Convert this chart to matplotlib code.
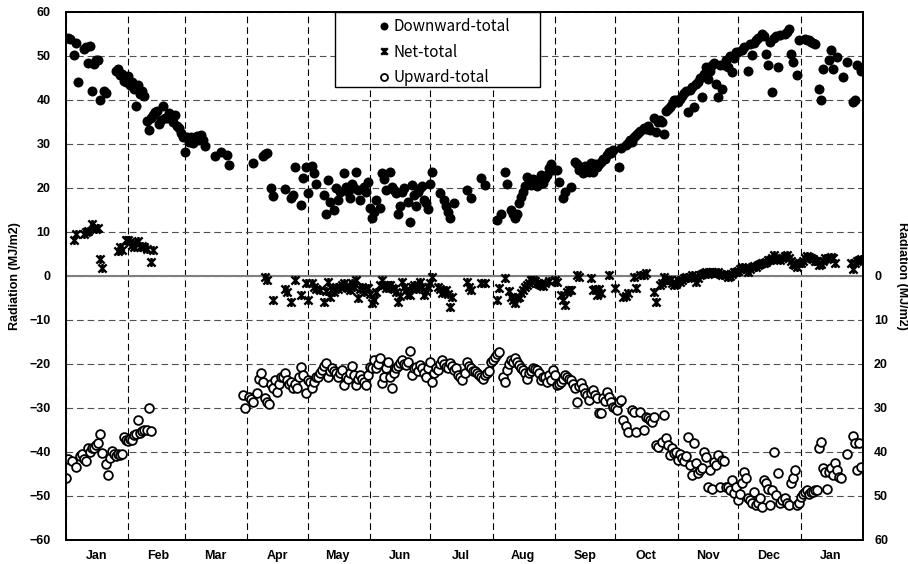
import numpy as np
import pandas as pd
import matplotlib
matplotlib.use("Agg")
import matplotlib.pyplot as plt
import matplotlib.dates as mdates
from matplotlib.path import Path
from matplotlib.patches import Rectangle

nan = np.nan

# daily totals (MJ/m2), 1 Jan of year 1 to 31 Jan of year 2, one line per month
downward = [
    nan, 54.2, 53.8, nan, 50.3, 53.0, 44.2, nan, nan, 51.5, 52.0, 48.3, 52.2, 42.0, 48.2, 49.2, 49.0, 39.9, nan, 42.0, 41.5, nan, nan, nan, nan, 46.5, 47.0, 45.6, 46.0, 44.4, 44.2,
    45.4, 43.3, 44.0, 42.5, 38.6, 43.3, 41.4, 42.0, 41.0, 35.2, 33.1, 35.8, 36.5, 37.3, 37.5, 34.5, 35.5, 38.6, 36.0, 35.8, 37.0, 36.1, 35.0, 36.5, 34.0, 33.6, 32.4, 31.5,
    28.2, 31.6, 30.5, 31.5, 30.2, 30.8, 31.8, 30.8, 32.0, 31.0, 29.5, nan, nan, nan, nan, 27.2, nan, nan, 28.2, nan, nan, 27.4, 25.3, nan, nan, nan, nan, nan, nan, nan, nan,
    nan, nan, nan, 25.7, nan, nan, nan, nan, 27.2, 27.8, 28.0, nan, 20.0, 18.1, nan, nan, nan, nan, nan, 19.8, nan, nan, 17.7, 18.3, 24.7, nan, nan, 16.1, 22.2, 24.7,
    18.8, nan, 25.0, 23.3, 21.0, nan, nan, nan, 18.4, 14.2, 21.8, 16.9, nan, 15.0, 19.9, 17.3, 19.0, nan, 23.3, 20.3, 19.0, 17.7, 21.0, 20.0, 23.6, 19.5, 17.3, nan, 20.3, 19.0, 21.4,
    15.4, 13.1, 14.5, 17.3, nan, 15.5, 23.3, 22.0, 19.5, nan, 23.7, 20.3, 19.5, 18.8, 14.2, 16.0, 19.2, 20.0, nan, 16.9, 12.3, 20.7, 18.5, 15.8, 19.0, 19.9, 20.5, 17.3, 16.5, 15.2,
    21.0, 23.7, nan, nan, nan, 18.8, nan, 17.3, 15.8, 14.5, 13.1, nan, 16.5, nan, nan, nan, nan, nan, 19.5, nan, 17.7, nan, nan, nan, nan, 22.2, nan, 20.7, nan, nan, nan,
    nan, nan, 12.7, nan, 14.2, nan, 23.7, 21.0, nan, 15.0, 14.0, 13.1, 14.2, 16.5, 18.0, 19.2, 20.5, 22.6, 21.5, 20.7, 22.0, 21.4, 20.5, 21.0, 22.9, 21.1, 22.2, 23.0, 24.5, 25.5, 24.0,
    nan, 24.1, 21.4, nan, 17.7, 19.0, nan, nan, 20.3, nan, 26.0, 25.5, 24.0, 24.5, 23.5, 25.0, 24.0, 23.7, 25.6, 23.7, 25.5, 24.8, 25.5, 26.0, 26.7, 26.7, 27.5, 28.2, 27.9, 28.6,
    nan, nan, 24.7, 29.0, nan, 29.8, 30.2, 30.8, 30.5, 31.5, 32.0, 32.5, 33.0, nan, 33.6, 33.5, 34.0, 33.2, nan, 35.8, 32.8, 35.0, 35.5, 35.0, 32.3, 37.6, 38.0, 38.4, 39.0, 39.9, 40.0,
    39.5, 40.3, 41.0, 41.5, 42.0, 37.3, 42.2, 43.0, 38.4, 43.7, 44.0, 45.0, 40.7, 46.0, 47.5, 44.8, 46.7, 47.9, 48.5, 43.7, 40.7, 47.9, 42.6, 48.0, 49.0, 47.5, 50.0, 46.4, 49.5, 50.9,
    51.0, nan, 51.3, 52.0, nan, 46.7, 52.8, 50.2, 53.0, 53.6, 54.0, nan, 55.1, 54.5, 50.5, 47.9, 53.2, 41.8, 54.0, 54.5, 47.5, 54.7, nan, 55.1, 55.5, 56.2, 50.5, 48.6, nan, 45.6, 53.6,
    nan, nan, 53.9, 53.7, 53.6, 53.2, 53.0, 52.8, nan, 42.6, 39.9, 47.1, nan, nan, 49.0, 51.4, 47.1, nan, 49.8, nan, nan, 45.2, nan, 48.6, nan, nan, 39.5, 39.9, 47.9, nan, 46.7,
]

net = [
    nan, nan, nan, nan, 8.2, 9.5, nan, nan, nan, 9.5, 10.0, 10.3, nan, 11.8, 11.0, 10.7, 11.0, 3.8, 1.9, nan, nan, nan, nan, nan, nan, nan, 5.6, 6.5, 6.0, nan, 8.2,
    8.2, 7.7, 7.0, 6.5, 7.5, 8.0, 6.5, 6.8, 6.5, 6.2, nan, 3.2, 6.0, nan, nan, nan, nan, nan, nan, nan, nan, nan, nan, nan, nan, nan, nan, nan,
    nan, nan, nan, nan, nan, nan, nan, nan, nan, nan, nan, nan, nan, nan, nan, nan, nan, nan, nan, nan, nan, nan, nan, nan, nan, nan, nan, nan, nan, nan, nan,
    nan, nan, nan, nan, nan, nan, nan, nan, nan, -0.2, -0.8, nan, nan, -5.5, nan, nan, nan, nan, nan, -3.0, -3.6, nan, -5.8, nan, -0.9, nan, nan, -4.3, nan, -1.7,
    -5.5, nan, -1.7, -2.5, -3.0, nan, -3.2, nan, -5.8, -3.5, -1.3, -4.7, -3.0, -3.6, -2.5, -3.0, -2.4, -2.0, -1.7, -2.2, -2.8, -3.2, -1.5, -2.5, -0.9, -5.1, -3.0, -2.5, -3.6, -3.0, -2.8,
    -4.0, -6.2, -5.5, -3.6, nan, -2.0, -0.9, -2.0, -2.8, -2.0, -2.0, -2.8, -3.0, -3.6, -5.8, -4.5, -1.3, -2.5, -3.2, -4.0, -4.3, -2.5, -2.0, -3.0, -2.0, -1.3, -2.5, -4.3, -3.5, -2.4,
    -1.5, -0.2, nan, nan, -2.4, -3.0, -3.9, -3.5, -3.2, -4.0, -7.0, -4.7, nan, nan, nan, nan, nan, nan, -1.3, -2.5, -3.2, nan, nan, nan, nan, -1.5, nan, -1.7, nan, nan, nan,
    nan, nan, -5.5, -2.8, nan, nan, -0.5, nan, -3.5, -4.7, -5.5, -6.2, -5.0, -4.7, -3.8, -3.2, -2.5, -2.0, -1.5, -0.9, -1.0, -1.2, -1.5, -1.8, -2.0, -2.2, -1.5, nan, -1.2, nan, nan,
    -1.0, -1.3, nan, -4.3, -5.5, -6.6, -3.6, -3.2, -3.2, nan, nan, 0.2, -0.2, nan, nan, nan, nan, nan, -0.5, -3.2, -3.0, -4.3, -3.0, -3.9, nan, nan, nan, 0.2, nan, nan,
    -2.8, nan, nan, nan, -4.7, -4.5, -3.9, nan, nan, -0.2, -2.8, nan, 0.2, nan, 0.3, 0.6, nan, nan, nan, -3.6, -5.8, nan, -2.0, -1.5, -0.2, -0.8, -1.0, -0.9, -1.5, -2.0, -1.8,
    -1.0, -1.3, -0.8, -0.5, -0.2, -0.5, -0.2, 0.2, -0.3, -1.3, -0.5, 0.3, 0.5, 0.6, 0.8, 0.5, 1.0, 0.8, 0.6, 0.6, 0.8, 0.4, 0.2, 0.5, 0.3, -0.2, 0.0, 0.5, 1.0, 0.8,
    1.2, 1.5, 2.1, 1.5, 1.8, 1.0, 1.5, 2.0, 2.2, 2.1, 2.5, 2.8, 2.9, 3.0, 3.2, 3.6, 3.6, 4.0, 4.8, 4.2, 3.8, 3.6, 4.0, 4.5, 4.8, 4.0, 3.3, 2.8, 2.5, 2.1, 3.0,
    2.9, 3.5, 4.0, 4.5, 4.4, 4.0, 3.8, 3.5, 3.3, 2.5, 2.8, 3.5, 4.0, 3.8, 4.2, 4.4, 4.0, 3.0, nan, nan, nan, nan, nan, nan, nan, 2.9, 1.7, 3.0, 3.5, 3.6, 3.8,
]

upward = [
    -45.9, -41.7, nan, -42.0, nan, -43.3, nan, -41.0, -40.5, -41.5, -42.0, -39.0, -40.0, -39.1, -39.0, -38.5, -38.0, -36.0, -40.2, nan, -42.8, -45.3, -41.3, -39.8, -40.5, -40.8, -40.5, -40.6, -40.4, -36.7, -37.2,
    -37.5, -37.0, -37.3, -36.2, -36.0, -32.7, -35.7, -35.2, -35.0, -34.9, -30.0, -35.3, nan, nan, nan, nan, nan, nan, nan, nan, nan, nan, nan, nan, nan, nan, nan, nan,
    nan, nan, nan, nan, nan, nan, nan, nan, nan, nan, nan, nan, nan, nan, nan, nan, nan, nan, nan, nan, nan, nan, nan, nan, nan, nan, nan, nan, nan, -27.0, -30.1,
    nan, -27.4, -28.0, -28.6, nan, -26.7, -23.3, -22.1, -24.0, -27.8, -28.6, -29.1, -24.5, -25.5, -23.6, -26.3, -24.5, -22.9, -23.0, -22.1, -23.6, -24.5, -24.0, -25.5, -24.5, -25.5, -23.0, -20.6, -22.5, -26.7,
    -23.6, -24.0, -25.5, -24.0, -23.0, -22.9, -22.0, -21.4, -20.5, -19.8, -22.9, -21.5, -21.0, -21.7, -22.0, -22.9, -22.0, -21.4, -24.8, -23.0, -23.3, -22.0, -20.5, -22.5, -24.8, -23.5, -22.5, -23.3, -24.0, -24.8, -22.5,
    -20.6, -21.0, -19.1, -21.0, -20.0, -18.7, -24.4, -22.9, -21.0, -19.5, -23.0, -25.5, -22.1, -21.0, -20.5, -19.8, -19.1, -20.0, -20.2, -19.5, -17.0, -22.5, -21.0, -20.6, -21.5, -20.2, -21.0, -22.0, -23.0, -21.0,
    -19.5, -24.2, -22.0, -21.0, -21.4, -20.0, -19.1, -20.0, -20.6, -21.0, -19.8, -20.5, -21.4, -21.0, -22.5, -23.0, -23.6, -22.0, -19.5, -20.5, -21.0, -21.5, -21.7, -22.0, -22.5, -23.0, -23.3, -22.5, -22.0, -21.7, -19.5,
    -19.0, -18.3, -17.8, -17.2, nan, -22.9, -24.0, -21.4, -20.0, -19.1, -19.5, -18.7, -19.5, -20.2, -20.8, -21.4, -22.0, -23.3, -22.0, -21.5, -21.0, -21.2, -21.4, -22.0, -23.6, -22.9, -23.0, -24.0, -22.5, -23.6, -21.4,
    -22.5, -24.8, -24.5, -24.0, -23.5, -22.5, -23.0, -23.5, -23.6, -24.5, -25.5, -28.6, -25.0, -24.4, -25.5, -26.7, -27.0, -28.2, -26.5, -25.9, -27.0, -27.8, -31.1, -31.2, -27.8, -28.5, -26.3, -27.4, -28.6, -29.7,
    -30.1, -30.5, -28.6, -28.2, -32.7, -34.2, -35.4, nan, -30.5, -30.8, -35.4, nan, -30.8, nan, -35.0, -32.0, -32.3, -32.7, -33.1, -32.0, -38.4, -38.8, nan, -37.7, -31.7, -36.9, -38.4, -40.7, -39.0, -40.3, -40.0,
    -41.8, -40.5, -41.4, -42.0, -41.0, -36.5, -43.0, -45.2, -38.0, -42.5, -44.8, -44.0, -43.7, -39.9, -41.1, -47.9, -44.1, -48.3, -42.2, -43.0, -40.7, -47.9, -41.8, -42.0, -47.9, -48.0, -48.6, -46.4, -49.4, -48.0,
    -50.9, -49.5, -47.1, -44.5, -46.0, -50.5, -51.0, -51.7, -49.0, -52.0, -51.5, -50.5, -52.6, -46.4, -47.1, -48.5, -52.0, -48.6, -39.9, -49.8, -44.8, -51.7, -51.0, -50.5, -51.7, -52.0, -47.1, -46.0, -44.1, -52.0, -51.5,
    -50.2, -49.5, -49.0, -48.6, -49.5, -49.0, -49.0, -48.6, -48.6, -39.2, -37.7, -43.7, -44.5, -48.3, -44.5, -43.7, -45.2, -42.6, -44.1, -45.6, -46.0, nan, nan, -40.5, nan, nan, -36.4, -38.0, -44.1, -38.0, -43.3,
]

dates = pd.date_range("2009-01-01", periods=len(downward), freq="D")
assert len(downward) == len(net) == len(upward) == 396

# Excel-like "star" marker: an X with a vertical bar through it
star = Path([(-1, -1), (1, 1), (-1, 1), (1, -1), (0, -1.1), (0, 1.1)],
            [Path.MOVETO, Path.LINETO, Path.MOVETO, Path.LINETO, Path.MOVETO, Path.LINETO])

tick_font = dict(family="Liberation Sans", weight="bold", size=9)

fig = plt.figure(figsize=(9.08, 5.64), dpi=100)
ax = fig.add_axes([66 / 908, 24 / 564, 797 / 908, 528 / 564])

ax.plot(dates, downward, "o", color="black", ms=7.2, mew=0, label="Downward-total", zorder=3)
ax.plot(dates, net, marker=star, ls="none", color="black", ms=6.5, mew=1.7, label="Net-total", zorder=3)
ax.plot(dates, upward, "o", mfc="white", mec="black", ms=6.3, mew=1.3, label="Upward-total", zorder=3)

ax.set_xlim(pd.Timestamp("2009-01-01"), pd.Timestamp("2010-02-01"))
ax.set_ylim(-60, 60)
ax.set_yticks(np.arange(-60, 61, 10))

ax.xaxis.set_major_locator(mdates.MonthLocator())
ax.xaxis.set_major_formatter(plt.NullFormatter())
ax.xaxis.set_minor_locator(mdates.MonthLocator(bymonthday=16))
ax.xaxis.set_minor_formatter(mdates.DateFormatter("%b"))
ax.tick_params(axis="x", which="both", length=0, pad=7)
ax.tick_params(axis="y", length=0, pad=11)
for lab in ax.get_xticklabels(minor=True) + ax.get_yticklabels():
    lab.set_fontproperties(tick_font)

ax.set_axisbelow(True)
ax.grid(axis="x", which="major", color="black", lw=0.8, dashes=(6, 3.5))
ax.grid(axis="y", color="#505050", lw=0.8, dashes=(6, 3.5))
ax.axhline(0, color="#808080", lw=1.5, zorder=2)
for s in ax.spines.values():
    s.set_linewidth(1.3)

ax.set_ylabel("Radiation (MJ/m2)", fontdict=tick_font, labelpad=6)

ax2 = ax.twinx()
ax2.set_ylim(60, -60)
ax2.set_yticks(np.arange(0, 61, 10))
ax2.tick_params(axis="y", length=0, pad=8)
for lab in ax2.get_yticklabels():
    lab.set_fontproperties(tick_font)
ax2.set_ylabel("Radiation (MJ/m2)", fontdict=tick_font, rotation=270, labelpad=14)
for s in ax2.spines.values():
    s.set_linewidth(1.3)

# legend box sits against the top of the plot area
ax.add_patch(Rectangle((269 / 797, 1 - 75 / 528), 205 / 797, 75 / 528, transform=ax.transAxes,
                       facecolor="white", edgecolor="black", lw=1.0, zorder=5, clip_on=False))
leg = ax.legend(loc="upper left", bbox_to_anchor=(304 / 797, 1 + 1.5 / 528), frameon=False,
                handlelength=0.8, handletextpad=0.25, borderpad=0, labelspacing=0.55,
                markerscale=0.8, prop=dict(family="Noto Sans CJK JP", size=11))
leg.set_zorder(6)

fig.savefig("out.png", dpi=100)
